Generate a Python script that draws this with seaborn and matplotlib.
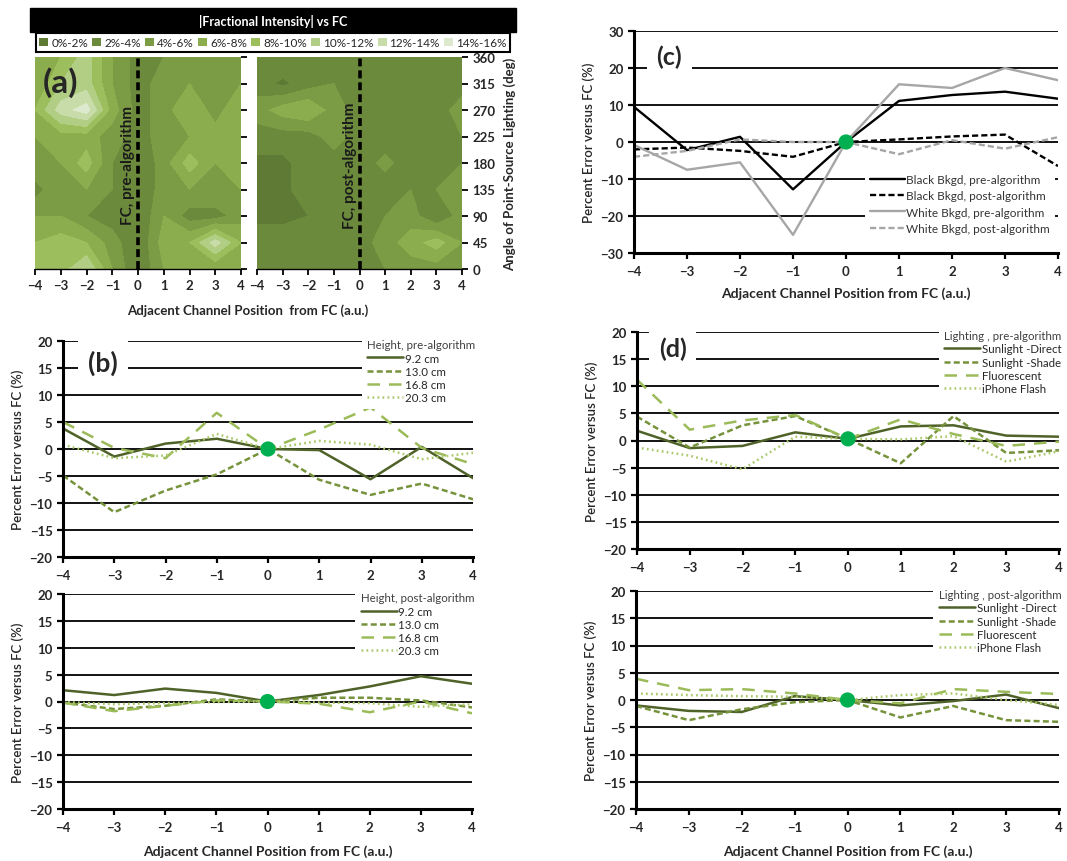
import numpy as np
import pandas as pd
import matplotlib.pyplot as plt
import seaborn as sns
from matplotlib.patches import Patch, Rectangle

W, H = 1067, 862

# ---------------- data ----------------
x_pos = [-4, -3, -2, -1, 0, 1, 2, 3, 4]
angles = [0, 45, 90, 135, 180, 225, 270, 315, 360]

# |fractional intensity| vs FC (%), rows = angle 0..360, columns = position -4..4
pre_intensity = [
    [8, 9, 12, 6, 2, 6, 6, 6, 6],
    [8, 9, 8, 5, 2, 7, 8, 13, 8],
    [6, 6, 4, 3, 2, 6, 3, 3, 5],
    [3, 6, 6, 4, 2, 5, 6, 6, 6],
    [6, 6, 9, 4, 2, 5, 9, 6, 7],
    [6, 7, 7, 5, 3, 5, 6, 7, 6],
    [8, 13, 15, 7, 3, 5, 8, 5, 8],
    [6, 10, 11, 6, 3, 5, 6, 5, 6],
    [6, 8, 11, 6, 3, 4, 5, 4, 6],
]
post_intensity = [
    [4, 4, 3, 3, 3, 4, 5, 5, 5],
    [3, 3, 3, 3, 3, 5, 7, 9, 6],
    [1.5, 1.5, 2, 3, 3, 4, 5, 2, 5],
    [1.5, 1.5, 3, 3, 3, 3, 4, 4, 5],
    [1.5, 1.5, 3, 3, 3, 4.5, 3, 3, 4],
    [3, 3, 3, 5, 3, 3, 3, 3, 4],
    [5, 7, 8, 5, 3, 3, 3, 3, 5],
    [3, 1.5, 3, 4, 3, 3, 3, 3, 3],
    [4, 4, 4, 3, 3, 3, 3, 3, 3],
]
intensity_levels = [0, 2, 4, 6, 8, 10, 12, 14, 16]
intensity_labels = ['0%-2%', '2%-4%', '4%-6%', '6%-8%', '8%-10%', '10%-12%', '12%-14%', '14%-16%']
intensity_colors = ['#5e7a34', '#6c8a3c', '#7b9b44', '#8cad4e', '#9cbe5d', '#b2ce85', '#c8dca9', '#dde9cd']

# (c) background
bkgd_names = ['Black Bkgd, pre-algorithm', 'Black Bkgd, post-algorithm',
              'White Bkgd, pre-algorithm', 'White Bkgd, post-algorithm']
black_pre = [9.5, -2.2, 1.4, -12.8, 0, 11.1, 12.7, 13.6, 11.7]
black_post = [-2.0, -1.5, -2.4, -4.0, 0, 0.7, 1.5, 2.0, -6.5]
white_pre = [-0.8, -7.5, -5.5, -25.1, 0, 15.6, 14.6, 20.0, 16.7]
white_post = [-4.0, -2.4, 0.7, 0.0, 0, -3.3, 0.5, -1.8, 1.3]

# (b) height
height_names = ['9.2 cm', '13.0 cm', '16.8 cm', '20.3 cm']
h92_pre = [3.8, -1.4, 1.0, 1.9, 0, -0.2, -5.6, 0.4, -5.4]
h130_pre = [-4.9, -11.7, -7.7, -4.7, 0, -5.7, -8.5, -6.4, -9.3]
h168_pre = [5.0, 0.2, -1.7, 6.7, 0, 3.6, 7.7, 0.2, -2.8]
h203_pre = [0.8, -1.7, -1.2, 2.8, 0, 1.5, 0.8, -1.9, -0.7]
h92_post = [2.1, 1.2, 2.4, 1.6, 0, 1.2, 2.8, 4.7, 3.3]
h130_post = [-0.2, -1.4, -0.8, 0.4, 0, 0.7, 0.7, 0.2, -1.1]
h168_post = [-0.2, -1.8, -0.8, 0.2, 0, -0.4, -2.0, 0.0, -2.2]
h203_post = [-0.1, -0.5, -0.3, -0.1, 0, -0.2, -0.3, -1.0, -0.5]

# (d) lighting
light_names = ['Sunlight -Direct', 'Sunlight -Shade', 'Fluorescent', 'iPhone Flash']
direct_pre = [1.8, -1.4, -1.0, 1.5, 0.3, 2.6, 2.8, 0.9, 0.7]
shade_pre = [4.4, -1.3, 2.8, 4.5, 0.3, -4.2, 4.5, -2.3, -1.8]
fluor_pre = [11.2, 2.0, 3.7, 4.7, 0.3, 3.9, 1.2, -1.0, -0.2]
iphone_pre = [-1.3, -2.8, -5.3, 0.7, 0.3, 0.2, 0.8, -3.9, -2.0]
direct_post = [-1.0, -2.0, -2.2, 0.7, 0, -1.0, -0.2, 1.0, -1.5]
shade_post = [-1.1, -3.7, -1.7, -0.4, 0, -3.2, -1.1, -3.7, -4.0]
fluor_post = [3.9, 1.8, 2.0, 1.2, 0, -0.6, 2.0, 1.5, 1.1]
iphone_post = [1.2, 0.9, 0.7, 0.6, 0, 0.9, 1.2, 0.0, -0.9]

# FC reference point
fc_pos = [0]
fc_err = [0]
fc_err_d_pre = [0.3]

green_colors = ['#4f6228', '#76933c', '#9bbb59', '#a9c96a']
green_dashes = ['', (2.4, 1.3), (5, 3.6), (0.7, 1.3)]
gray_colors = ['black', 'black', '#a6a6a6', '#a6a6a6']
gray_dashes = ['', (2.6, 1.3), '', (2.6, 1.3)]

sns.set_style('white')
plt.rcParams['font.family'] = ['Lato', 'DejaVu Sans']
plt.rcParams['axes.linewidth'] = 1.6


def long_df(names, series):
    return pd.DataFrame({
        'pos': np.tile(x_pos, len(names)),
        'err': np.concatenate([np.asarray(s, dtype=float) for s in series]),
        'series': np.repeat(names, len(x_pos)),
    })


def error_panel(ax, names, series, colors, dashes, ylim, ystep, lw=1.8, fc_y=fc_err):
    df = long_df(names, series)
    sns.lineplot(data=df, x='pos', y='err', hue='series', style='series',
                 hue_order=names, style_order=names,
                 palette=dict(zip(names, colors)), dashes=dict(zip(names, dashes)),
                 linewidth=lw, estimator=None, sort=False, ax=ax)
    sns.scatterplot(x=fc_pos, y=fc_y, color='#00b050', s=120, edgecolor='none',
                    zorder=6, legend=False, ax=ax)
    ax.set_xlim(-4, 4)
    ax.set_ylim(*ylim)
    ax.set_xticks(x_pos)
    ax.set_yticks(np.arange(ylim[0], ylim[1] + 1, ystep))
    ax.set_axisbelow(True)
    ax.yaxis.grid(True, color='black', lw=1.3)
    ax.xaxis.grid(False)
    sns.despine(ax=ax)
    for s in ['left', 'bottom']:
        ax.spines[s].set_color('black')
        ax.spines[s].set_linewidth(2.2)
    ax.tick_params(direction='out', length=4, width=1.6, color='black',
                   labelsize=9.5, left=True, bottom=True)
    for t in ax.get_xticklabels() + ax.get_yticklabels():
        t.set_fontweight('bold')
    ax.tick_params(axis='x', pad=5)
    ax.set_xlabel('')
    ax.set_ylabel('Percent Error versus FC (%)', fontsize=9.5, fontweight='semibold')

    old = ax.get_legend()
    handles = list(old.legend_handles)
    labels = [t.get_text() for t in old.get_texts()]
    old.remove()
    keep = [(h, l) for h, l in zip(handles, labels) if l in names]
    return [k[0] for k in keep], [k[1] for k in keep]


def side_legend(ax, handles, labels, title):
    leg = ax.legend(handles, labels, title=title, loc='upper right',
                    bbox_to_anchor=(1.02, 1.035), borderaxespad=0,
                    fontsize=8.3, title_fontsize=8.3, alignment='left',
                    handlelength=3.1, handletextpad=0.15, labelspacing=0.2,
                    borderpad=0.5, frameon=True, facecolor='white',
                    edgecolor='none', framealpha=1)
    leg.get_title().set_color('#404040')
    leg.set_zorder(4)
    return leg


def panel_tag(ax, text, x, y, size=18):
    ax.text(x, y, text, transform=ax.transAxes, fontsize=size, fontweight='bold',
            ha='center', va='center', zorder=3,
            bbox=dict(boxstyle='square,pad=0.38', fc='white', ec='none'))


def intensity_panel(ax, grid, label):
    ax.contourf(x_pos, angles, np.array(grid, dtype=float), levels=intensity_levels,
                colors=intensity_colors)
    ax.axvline(0, color='black', lw=2.6, ls=(0, (2.2, 1.1)))
    ax.text(-0.1, 177, label, rotation=90, ha='right', va='center',
            fontsize=11, fontweight='bold', color='#1a1a1a')
    ax.set_xlim(-4, 4)
    ax.set_ylim(0, 360)
    ax.set_xticks(x_pos)
    ax.set_yticks(angles)
    for s in ['top', 'left', 'right']:
        ax.spines[s].set_visible(False)
    ax.spines['bottom'].set_linewidth(1)
    ax.spines['bottom'].set_color('black')
    ax.yaxis.tick_right()
    ax.tick_params(axis='both', direction='out', length=4, width=1.3, color='black',
                   labelsize=9.5, right=True, bottom=True, left=False)
    for t in ax.get_xticklabels() + ax.get_yticklabels():
        t.set_fontweight('bold')


def fig_rect(x0, y0, x1, y1):
    return [x0 / W, 1 - y1 / H, (x1 - x0) / W, (y1 - y0) / H]


fig = plt.figure(figsize=(W / 100, H / 100), dpi=100)

# ---------------- (a) ----------------
ax_a1 = fig.add_axes(fig_rect(35, 58, 241, 270))
ax_a2 = fig.add_axes(fig_rect(257, 58, 462, 270))
intensity_panel(ax_a1, pre_intensity, 'FC, pre-algorithm')
intensity_panel(ax_a2, post_intensity, 'FC, post-algorithm')
ax_a1.set_yticklabels([])
ax_a2.yaxis.set_label_position('right')
ax_a2.set_ylabel('Angle of Point-Source Lighting (deg)', fontsize=9.5,
                 fontweight='bold', labelpad=6)
ax_a1.text(0.125, 0.885, '(a)', transform=ax_a1.transAxes, fontsize=24,
           fontweight='bold', ha='center', va='center')
fig.text(248 / W, 1 - 311 / H, 'Adjacent Channel Position  from FC (a.u.)',
         ha='center', va='center', fontsize=9.5, fontweight='bold')

fig.add_artist(Rectangle((30 / W, 1 - 33 / H), 486 / W, 24 / H,
                         transform=fig.transFigure, facecolor='black', edgecolor='black'))
fig.text(273 / W, 1 - 21 / H, '|Fractional Intensity| vs FC', color='white',
         ha='center', va='center', fontsize=9, fontweight='bold')
swatches = [Patch(facecolor=c, edgecolor='none') for c in intensity_colors]
leg_a = fig.legend(swatches, intensity_labels, ncol=8, loc='center', mode='expand',
                   bbox_to_anchor=(30 / W, 1 - 54 / H, 486 / W, 21 / H),
                   fontsize=8.5, handlelength=0.75, handleheight=0.75,
                   handletextpad=0.25, columnspacing=0.6, borderpad=0.3,
                   fancybox=False, edgecolor='black', framealpha=1)
leg_a.get_frame().set_linewidth(1.5)

# ---------------- (c) ----------------
ax_c = fig.add_axes(fig_rect(634, 32, 1058, 254))
h, l = error_panel(ax_c, bkgd_names, [black_pre, black_post, white_pre, white_post],
                   gray_colors, gray_dashes, (-30, 30), 10, lw=1.7)
leg_c = ax_c.legend(h, l, loc='lower left', bbox_to_anchor=(0.545, 0.065),
                    borderaxespad=0, fontsize=8.5, handlelength=3.0,
                    handletextpad=0.1, labelspacing=0.45, frameon=True,
                    facecolor='white', edgecolor='none', framealpha=1)
for t in leg_c.get_texts():
    t.set_color('#333333')
ax_c.set_xlabel('Adjacent Channel Position from FC (a.u.)', fontsize=10,
                fontweight='bold', labelpad=6)
panel_tag(ax_c, '(c)', 0.083, 0.885, size=18)

# ---------------- (b) ----------------
ax_b1 = fig.add_axes(fig_rect(63, 342, 473, 558))
h, l = error_panel(ax_b1, height_names, [h92_pre, h130_pre, h168_pre, h203_pre],
                   green_colors, green_dashes, (-20, 20), 5)
side_legend(ax_b1, h, l, 'Height, pre-algorithm')
panel_tag(ax_b1, '(b)', 0.098, 0.9, size=19)

ax_b2 = fig.add_axes(fig_rect(63, 595, 472, 810))
h, l = error_panel(ax_b2, height_names, [h92_post, h130_post, h168_post, h203_post],
                   green_colors, green_dashes, (-20, 20), 5)
side_legend(ax_b2, h, l, 'Height, post-algorithm')
ax_b2.set_xlabel('Adjacent Channel Position from FC (a.u.)', fontsize=10,
                 fontweight='bold', labelpad=8)

# ---------------- (d) ----------------
ax_d1 = fig.add_axes(fig_rect(637, 333, 1059, 550))
h, l = error_panel(ax_d1, light_names, [direct_pre, shade_pre, fluor_pre, iphone_pre],
                   green_colors, green_dashes, (-20, 20), 5, fc_y=fc_err_d_pre)
side_legend(ax_d1, h, l, 'Lighting , pre-algorithm')
panel_tag(ax_d1, '(d)', 0.085, 0.925, size=18)

ax_d2 = fig.add_axes(fig_rect(636, 592, 1059, 810))
h, l = error_panel(ax_d2, light_names, [direct_post, shade_post, fluor_post, iphone_post],
                   green_colors, green_dashes, (-20, 20), 5)
side_legend(ax_d2, h, l, 'Lighting , post-algorithm')
ax_d2.set_xlabel('Adjacent Channel Position from FC (a.u.)', fontsize=10,
                 fontweight='bold', labelpad=8)

fig.savefig('out.png', dpi=100, facecolor='white')
